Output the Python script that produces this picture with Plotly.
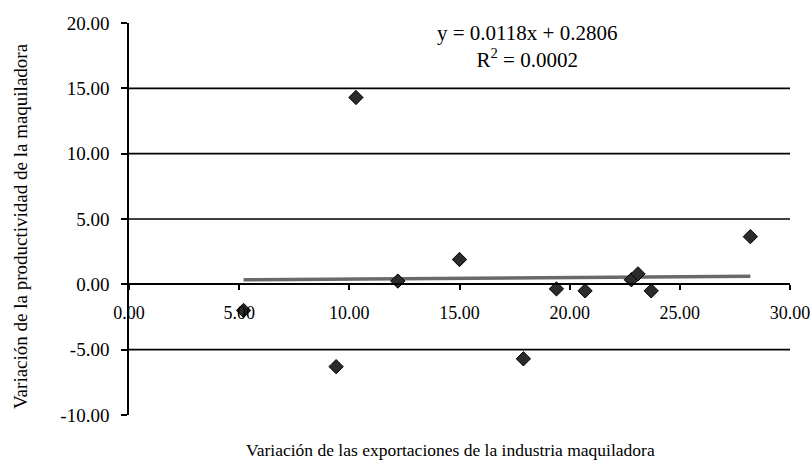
import plotly.graph_objects as go

# Data
x_vals = [5.2, 9.4, 10.3, 12.2, 15.0, 17.9, 19.4, 20.7, 22.8, 23.1, 23.7, 28.2]
y_vals = [-2.0, -6.3, 14.3, 0.25, 1.9, -5.7, -0.35, -0.5, 0.35, 0.8, -0.5, 3.65]

trend_slope = 0.0118
trend_intercept = 0.2806
r_squared = 0.0002

x_ticks = [0, 5, 10, 15, 20, 25, 30]
y_ticks = [-10, -5, 0, 5, 10, 15, 20]
grid_lines = [-5, 5, 10, 15]

x_title = "Variación de las exportaciones de la industria maquiladora"
y_title = "Variación de la productividad de la maquiladora"

FONT = "Liberation Serif"

trend_x = [min(x_vals), max(x_vals)]
trend_y = [trend_slope * v + trend_intercept for v in trend_x]

fig = go.Figure()
fig.add_trace(go.Scatter(
    x=trend_x, y=trend_y, mode="lines",
    line=dict(color="#6a6a6a", width=3.5),
    showlegend=False, hoverinfo="skip",
))
fig.add_trace(go.Scatter(
    x=x_vals, y=y_vals, mode="markers",
    marker=dict(symbol="diamond", size=11, color="#2b2b2b",
                line=dict(color="#000000", width=1)),
    showlegend=False,
))

shapes = [
    dict(type="line", xref="paper", x0=0, x1=1, yref="y", y0=g, y1=g,
         line=dict(color="#000000", width=1.6), layer="below")
    for g in grid_lines
]

fig.update_layout(
    width=810, height=464,
    margin=dict(l=129, r=20, t=23, b=49, autoexpand=False),
    paper_bgcolor="white", plot_bgcolor="white",
    font=dict(family=FONT, color="#000000", size=19),
    shapes=shapes,
    xaxis=dict(
        range=[0, 30], tickvals=x_ticks, ticktext=[f"{v:.2f}" for v in x_ticks],
        showgrid=False, zeroline=False, automargin=False,
        showline=True, linecolor="#000000", linewidth=1.6,
        ticks="outside", ticklen=5, tickwidth=1.6, tickcolor="#000000",
        anchor="free", position=1/3,
        ticklabelstandoff=7, ticklabeloverflow="allow",
        tickfont=dict(family=FONT, size=18, color="#000000"),
    ),
    yaxis=dict(
        range=[-10, 20], tickvals=y_ticks, ticktext=[f"{v:.2f}" for v in y_ticks],
        showgrid=False, zeroline=False, automargin=False,
        showline=True, linecolor="#000000", linewidth=1.6,
        ticks="outside", ticklen=6, tickwidth=1.6, tickcolor="#000000",
        ticklabelstandoff=8, ticklabeloverflow="allow",
        tickfont=dict(family=FONT, size=19, color="#000000"),
    ),
    annotations=[
        dict(text=f"y = {trend_slope}x + {trend_intercept}<br>R<sup>2</sup> = {r_squared}",
             xref="paper", yref="paper", x=0.602, y=0.94,
             xanchor="center", yanchor="middle", align="center",
             showarrow=False, font=dict(family=FONT, size=21, color="#000000")),
        dict(text=x_title, xref="paper", yref="paper", x=0.486, y=-0.089,
             xanchor="center", yanchor="middle", showarrow=False,
             font=dict(family=FONT, size=17.5, color="#000000")),
        dict(text=y_title, xref="paper", yref="paper", x=-0.165, y=0.482,
             xanchor="center", yanchor="middle", textangle=-90, showarrow=False,
             font=dict(family=FONT, size=19, color="#000000")),
    ],
)

fig.write_html("out.html", config={"displayModeBar": False},
               post_script="document.body.style.margin='0px';")
